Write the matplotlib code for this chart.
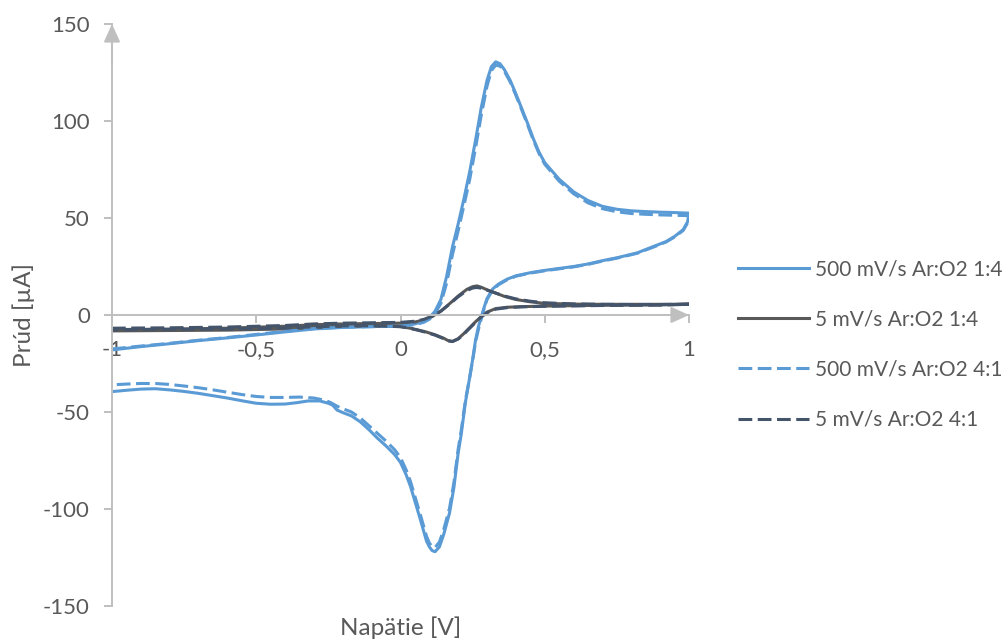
import matplotlib
matplotlib.use("Agg")
import matplotlib.pyplot as plt
from matplotlib.ticker import FixedLocator

# --- Cyclic voltammograms (potential in V, current in uA) ---
# 500 mV/s, Ar:O2 1:4
v_fast_14 = [-1.00, -0.90, -0.80, -0.70, -0.60, -0.50, -0.40, -0.30, -0.20, -0.10,
             0.00, 0.05, 0.08, 0.10, 0.12, 0.14, 0.16, 0.18, 0.20, 0.22,
             0.24, 0.26, 0.28, 0.30, 0.315, 0.33, 0.345, 0.36, 0.38, 0.40,
             0.42, 0.44, 0.46, 0.48, 0.50, 0.55, 0.60, 0.65, 0.70, 0.75,
             0.80, 0.85, 0.90, 0.95, 1.00,
             0.995, 0.98, 0.95, 0.92, 0.88, 0.82, 0.75, 0.70, 0.65, 0.60,
             0.55, 0.50, 0.45, 0.40, 0.37, 0.34, 0.32, 0.30, 0.29, 0.28,
             0.27, 0.26, 0.25, 0.24, 0.225, 0.21, 0.20, 0.185, 0.17, 0.15,
             0.135, 0.12, 0.11, 0.10, 0.09, 0.07, 0.05, 0.035, 0.02, 0.00,
             -0.02, -0.05, -0.08, -0.11, -0.14, -0.17, -0.20, -0.22, -0.235, -0.25,
             -0.28, -0.32, -0.36, -0.40, -0.45, -0.50, -0.55, -0.60, -0.65, -0.70,
             -0.75, -0.80, -0.85, -0.90, -0.95, -1.00]
i_fast_14 = [-18.0, -16.3, -14.8, -13.2, -11.8, -10.3, -8.7, -7.2, -6.4, -6.0,
             -5.6, -4.6, -3.3, -1.5, 2.0, 8.0, 20.0, 35.0, 47.0, 60.0,
             74.0, 90.0, 107.0, 121.0, 128.0, 130.5, 129.5, 126.5, 121.0, 114.0,
             106.5, 99.0, 91.0, 84.0, 78.5, 70.0, 63.5, 59.0, 56.0, 54.5,
             53.7, 53.3, 53.0, 52.8, 52.5,
             48.0, 44.0, 40.5, 37.8, 35.5, 32.0, 29.5, 28.0, 26.3, 25.0,
             24.0, 23.0, 21.8, 20.2, 18.5, 16.0, 13.5, 8.5, 4.0, -1.0,
             -6.0, -13.0, -23.0, -32.0, -45.0, -62.0, -71.0, -89.0, -102.0, -113.0,
             -119.5, -122.0, -121.5, -119.5, -116.5, -106.0, -96.0, -88.5, -82.5, -76.0,
             -72.0, -67.5, -63.5, -59.0, -55.0, -52.0, -50.3, -49.0, -46.5, -45.5,
             -44.3, -44.3, -45.2, -45.9, -46.0, -45.5, -44.2, -42.8, -41.6, -40.4,
             -39.4, -38.6, -38.0, -38.2, -38.8, -39.5]

# 5 mV/s, Ar:O2 1:4
v_slow_14 = [-1.00, -0.80, -0.60, -0.40, -0.30, -0.20, -0.10, 0.00, 0.05, 0.08,
             0.11, 0.14, 0.17, 0.20, 0.23, 0.25, 0.265, 0.28, 0.30, 0.33,
             0.36, 0.40, 0.45, 0.50, 0.60, 0.70, 0.80, 0.90, 1.00,
             0.90, 0.80, 0.70, 0.60, 0.50, 0.42, 0.37, 0.33, 0.30, 0.28,
             0.26, 0.24, 0.22, 0.20, 0.18, 0.165, 0.15, 0.12, 0.09, 0.06,
             0.03, 0.00, -0.10, -0.20, -0.30, -0.40, -0.60, -0.80, -1.00]
i_slow_14 = [-7.5, -7.3, -6.8, -5.8, -5.0, -4.6, -4.4, -4.2, -3.6, -2.6,
             -0.8, 2.0, 5.8, 9.8, 13.2, 14.6, 15.0, 14.3, 13.0, 11.3,
             9.6, 8.0, 6.8, 6.0, 5.6, 5.5, 5.5, 5.5, 5.6,
             5.2, 5.1, 5.0, 4.8, 4.6, 4.3, 4.0, 3.3, 1.5, -0.8,
             -3.5, -6.5, -9.5, -12.2, -13.6, -13.2, -12.0, -10.2, -8.8, -7.7,
             -6.7, -6.0, -5.6, -5.8, -6.5, -7.2, -7.8, -8.0, -8.2]

# 500 mV/s, Ar:O2 4:1
v_fast_41 = [-1.00, -0.90, -0.80, -0.70, -0.60, -0.50, -0.40, -0.30, -0.20, -0.10,
             0.00, 0.05, 0.08, 0.10, 0.12, 0.14, 0.16, 0.18, 0.20, 0.22,
             0.24, 0.26, 0.28, 0.30, 0.315, 0.33, 0.345, 0.36, 0.38, 0.40,
             0.42, 0.44, 0.46, 0.48, 0.50, 0.55, 0.60, 0.65, 0.70, 0.75,
             0.80, 0.85, 0.90, 0.95, 1.00,
             0.995, 0.98, 0.95, 0.92, 0.88, 0.82, 0.75, 0.70, 0.65, 0.60,
             0.55, 0.50, 0.45, 0.40, 0.37, 0.34, 0.32, 0.30, 0.29, 0.28,
             0.27, 0.26, 0.25, 0.24, 0.225, 0.21, 0.20, 0.185, 0.17, 0.15,
             0.135, 0.12, 0.11, 0.10, 0.09, 0.07, 0.05, 0.035, 0.02, 0.00,
             -0.02, -0.05, -0.08, -0.11, -0.14, -0.17, -0.20, -0.22, -0.24, -0.26,
             -0.30, -0.35, -0.40, -0.45, -0.50, -0.55, -0.60, -0.65, -0.70, -0.75,
             -0.80, -0.85, -0.90, -0.95, -1.00]
i_fast_41 = [-17.5, -16.0, -14.6, -13.0, -11.6, -10.0, -8.4, -7.0, -6.3, -6.0,
             -5.8, -5.0, -3.8, -2.2, 0.8, 6.0, 16.5, 31.0, 43.5, 56.5,
             70.0, 86.0, 103.0, 118.0, 126.0, 128.8, 128.3, 125.6, 120.2, 113.2,
             105.8, 98.2, 90.3, 83.3, 77.7, 69.0, 62.5, 57.8, 54.8, 53.2,
             52.3, 51.9, 51.6, 51.4, 51.2,
             47.5, 43.6, 40.2, 37.6, 35.2, 31.8, 29.3, 27.8, 26.1, 24.8,
             23.8, 22.8, 21.6, 20.0, 18.2, 15.6, 13.0, 8.0, 3.4, -2.0,
             -7.5, -14.0, -23.5, -32.0, -44.0, -60.0, -69.0, -86.5, -99.5, -110.5,
             -117.0, -119.8, -119.5, -117.5, -114.0, -103.5, -93.5, -86.0, -80.0, -73.5,
             -69.5, -65.0, -61.0, -57.0, -53.0, -50.0, -48.3, -47.0, -45.3, -44.0,
             -42.8, -42.3, -42.5, -42.5, -42.0, -41.0, -39.8, -38.6, -37.5, -36.6,
             -35.8, -35.3, -35.3, -35.6, -36.0]

# 5 mV/s, Ar:O2 4:1
v_slow_41 = [-1.00, -0.80, -0.60, -0.40, -0.30, -0.20, -0.10, 0.00, 0.05, 0.08,
             0.11, 0.14, 0.17, 0.20, 0.23, 0.25, 0.265, 0.28, 0.30, 0.33,
             0.36, 0.40, 0.45, 0.50, 0.60, 0.70, 0.80, 0.90, 1.00,
             0.90, 0.80, 0.70, 0.60, 0.50, 0.42, 0.37, 0.33, 0.30, 0.28,
             0.26, 0.24, 0.22, 0.20, 0.18, 0.165, 0.15, 0.12, 0.09, 0.06,
             0.03, 0.00, -0.10, -0.20, -0.30, -0.40, -0.60, -0.80, -1.00]
i_slow_41 = [-6.8, -6.6, -6.2, -5.4, -4.6, -4.2, -4.0, -3.8, -3.2, -2.3,
             -0.6, 2.0, 5.6, 9.4, 12.6, 13.9, 14.2, 13.8, 12.8, 11.3,
             9.8, 8.3, 7.1, 6.3, 5.7, 5.5, 5.4, 5.4, 5.5,
             5.1, 5.0, 4.9, 4.7, 4.5, 4.2, 3.8, 3.0, 1.2, -1.0,
             -3.8, -6.8, -9.8, -12.4, -13.7, -13.3, -12.2, -10.4, -9.0, -7.8,
             -6.8, -6.0, -5.5, -5.6, -6.1, -6.7, -7.2, -7.4, -7.6]

x_ticks = [-1, -0.5, 0, 0.5, 1]
x_tick_labels = ["-1", "-0,5", "0", "0,5", "1"]
y_ticks = [-150, -100, -50, 0, 50, 100, 150]
y_tick_labels = ["-150", "-100", "-50", "0", "50", "100", "150"]

BLUE = "#5B9BD5"
GRAY = "#595959"
SLATE = "#44546A"
AXIS = "#BFBFBF"
TEXT = "#595959"

plt.rcParams["font.family"] = ["Lato", "DejaVu Sans"]

fig = plt.figure(figsize=(10.08, 6.42), dpi=100)
ax = fig.add_axes([112 / 1008, 36 / 642, 577 / 1008, 582 / 642])

lw = 2.2
dash = (0, (4.5, 1.8))
ax.plot(v_fast_14, i_fast_14, color=BLUE, lw=lw, label="500 mV/s Ar:O2 1:4")
ax.plot(v_slow_14, i_slow_14, color=GRAY, lw=lw, label="5 mV/s Ar:O2 1:4")
ax.plot(v_fast_41, i_fast_41, color=BLUE, lw=lw, ls=dash, label="500 mV/s Ar:O2 4:1")
ax.plot(v_slow_41, i_slow_41, color=SLATE, lw=lw, ls=dash, label="5 mV/s Ar:O2 4:1")

ax.set_xlim(-1, 1)
ax.set_ylim(-150, 150)

# axes cross at zero current, voltage axis runs along the left edge
for side in ("top", "right"):
    ax.spines[side].set_visible(False)
ax.spines["bottom"].set_position(("data", 0))
for side in ("left", "bottom"):
    ax.spines[side].set_color(AXIS)
    ax.spines[side].set_linewidth(1.4)

ax.xaxis.set_major_locator(FixedLocator(x_ticks))
ax.set_xticklabels(x_tick_labels)
ax.yaxis.set_major_locator(FixedLocator(y_ticks))
ax.set_yticklabels(y_tick_labels)
ax.tick_params(axis="x", direction="out", length=6, width=1.4, color=AXIS,
               labelcolor=TEXT, labelsize=16, pad=12)
ax.tick_params(axis="y", direction="out", length=6, width=1.4, color=AXIS,
               labelcolor=TEXT, labelsize=16, pad=10)

# arrow heads at the axis ends
head = dict(arrowstyle="-|>,head_length=1.1,head_width=0.5", color=AXIS,
            lw=1.4, shrinkA=0, shrinkB=0, mutation_scale=10)
ax.annotate("", xy=(1, 0), xytext=(0.9, 0), arrowprops=head, annotation_clip=False)
ax.annotate("", xy=(-1, 150), xytext=(-1, 130), arrowprops=head, annotation_clip=False)

ax.set_xlabel("Napätie [V]", fontsize=17.5, color=TEXT)
ax.set_ylabel("Prúd [µA]", fontsize=17.5, color=TEXT)
ax.xaxis.label.set_va("center")
ax.yaxis.label.set_va("center")
ax.xaxis.set_label_coords(0.5, -22 / 582)
ax.yaxis.set_label_coords(-88 / 577, 0.5)

leg = ax.legend(loc="center left", bbox_to_anchor=(1.052, 0.449), frameon=False,
                fontsize=15, handlelength=3.4, handletextpad=0.3, labelspacing=1.45)
for t in leg.get_texts():
    t.set_color(TEXT)

fig.savefig("out.png", dpi=100)
